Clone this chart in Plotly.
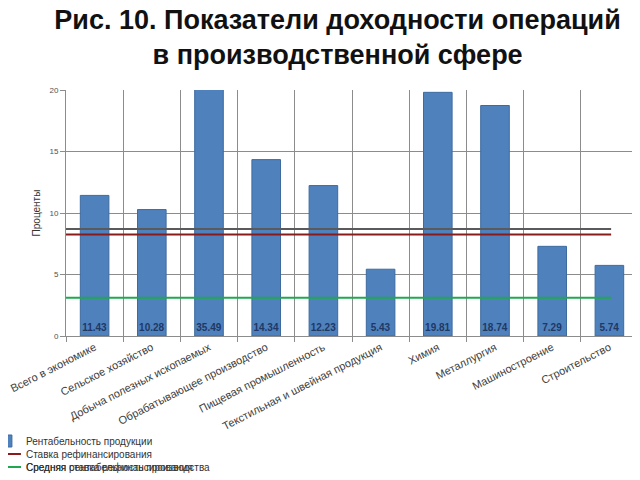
import plotly.graph_objects as go

# data
categories = [
    "Всего в экономике",
    "Сельское хозяйство",
    "Добыча полезных ископаемых",
    "Обрабатывающее производство",
    "Пищевая промышленность",
    "Текстильная и швейная продукция",
    "Химия",
    "Металлургия",
    "Машиностроение",
    "Строительство",
]
profitability = [11.43, 10.28, 35.49, 14.34, 12.23, 5.43, 19.81, 18.74, 7.29, 5.74]
refinancing_rate = [8.25, 8.25]
grey_level = [8.7, 8.7]
green_level = [3.1, 3.1]
y_ticks = [0, 5, 10, 15, 20]

# horizontal extent of the reference lines (paper fraction, style only)
LINE_SPAN = [-0.035, 0.953]

TEXT_FONT = "Liberation Sans, Arial, sans-serif"
TITLE_FONT = "Liberation Sans Narrow, Liberation Sans, Arial"

fig = go.Figure()

fig.add_trace(
    go.Bar(
        x=categories,
        y=profitability,
        name="Рентабельность продукции",
        marker={"color": "#4F81BD", "line": {"color": "#3D6BA0", "width": 1}},
        width=0.5,
        text=[f"{v:.2f}" for v in profitability],
        textposition="inside",
        insidetextanchor="start",
        textangle=0,
        insidetextfont={"color": "#1F3864", "size": 10, "family": TEXT_FONT, "weight": "bold"},
        legend="legend",
    )
)

line_specs = [
    (grey_level, "Средняя рентабельность производства", "#5A5A5A", "legend3"),
    (refinancing_rate, "Ставка рефинансирования", "#8B1A1A", "legend2"),
    (green_level, "Средняя ставка рефинансирования", "#1FA84F", "legend4"),
]
for values, name, color, leg in line_specs:
    fig.add_trace(
        go.Scatter(
            x=LINE_SPAN,
            y=values,
            mode="lines",
            name=name,
            line={"color": color, "width": 2},
            xaxis="x2",
            cliponaxis=False,
            legend=leg,
        )
    )


def legend_at(row_y):
    return {
        "x": -0.14,
        "xref": "paper",
        "xanchor": "left",
        "y": 1 - row_y / 480,
        "yref": "container",
        "yanchor": "middle",
        "bgcolor": "rgba(0,0,0,0)",
        "font": {"family": TEXT_FONT, "size": 10, "color": "#333333"},
        "itemwidth": 30,
    }


fig.update_layout(
    width=640,
    height=480,
    margin={"l": 58, "r": 10, "t": 82, "b": 152, "autoexpand": False},
    paper_bgcolor="white",
    plot_bgcolor="white",
    showlegend=True,
    uniformtext={"minsize": 10, "mode": "show"},
    title={
        "text": "<b>Рис. 10. Показатели доходности операций<br>в производственной сфере</b>",
        "x": 0.515,
        "xref": "container",
        "xanchor": "center",
        "y": 1 - 21 / 480,
        "yref": "container",
        "yanchor": "middle",
        "font": {"family": TITLE_FONT, "size": 27, "color": "#111111"},
    },
    xaxis={
        "type": "category",
        "tickson": "boundaries",
        "showgrid": True,
        "gridcolor": "#8C8C8C",
        "gridwidth": 1,
        "showline": True,
        "linecolor": "#8C8C8C",
        "ticks": "outside",
        "ticklen": 5,
        "tickcolor": "#8C8C8C",
        "tickangle": -27,
        "tickfont": {"family": TEXT_FONT, "size": 11, "color": "#404040"},
        "range": [-0.5, 9.5],
    },
    xaxis2={
        "overlaying": "x",
        "range": [0, 1],
        "visible": False,
    },
    yaxis={
        "range": [0, 20],
        "tickvals": y_ticks,
        "showgrid": True,
        "gridcolor": "#8C8C8C",
        "gridwidth": 1,
        "showline": True,
        "linecolor": "#8C8C8C",
        "ticks": "outside",
        "ticklen": 5,
        "tickcolor": "#8C8C8C",
        "tickfont": {"family": TEXT_FONT, "size": 8, "color": "#505050"},
        "title": {
            "text": "Проценты",
            "font": {"family": TEXT_FONT, "size": 10, "color": "#333333"},
            "standoff": 6,
        },
        "zeroline": False,
    },
    legend=legend_at(433),
    legend2=legend_at(446),
    legend3=legend_at(459),
    legend4=legend_at(459),
    bargap=0.5,
)

fig.write_html("out.html")
